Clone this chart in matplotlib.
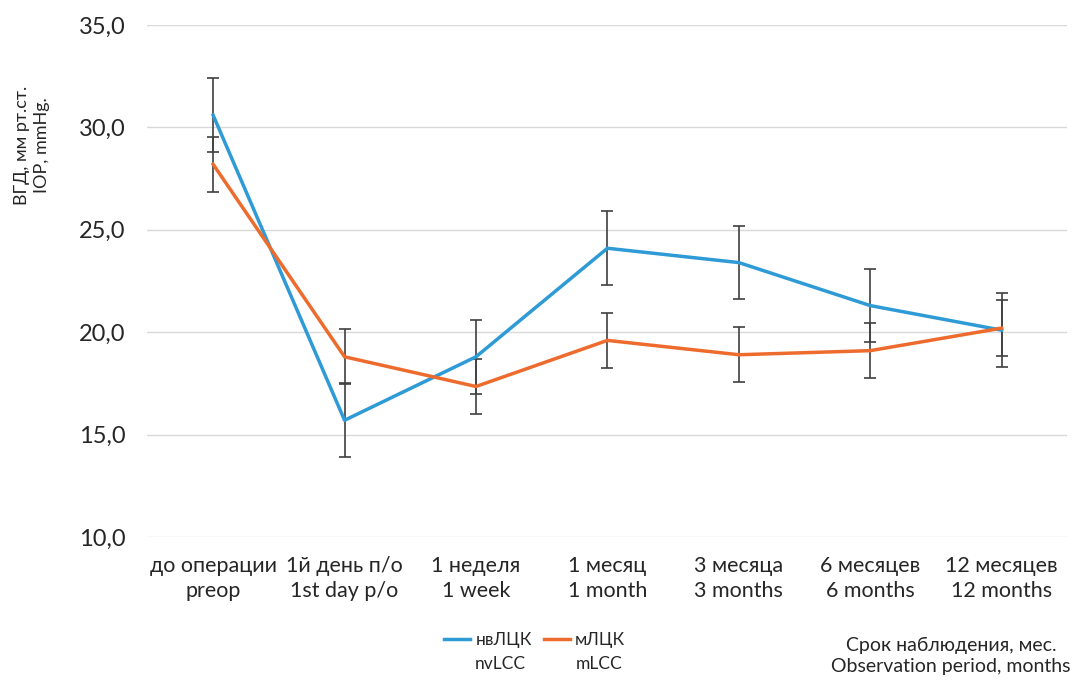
import matplotlib
matplotlib.use("Agg")
import matplotlib.pyplot as plt
import numpy as np

categories = ["до операции\npreop", "1й день п/о\n1st day p/o", "1 неделя\n1 week",
              "1 месяц\n1 month", "3 месяца\n3 months", "6 месяцев\n6 months",
              "12 месяцев\n12 months"]
nvlcc = [30.6, 15.7, 18.8, 24.1, 23.4, 21.3, 20.1]
nvlcc_err = [1.8, 1.8, 1.8, 1.8, 1.8, 1.8, 1.8]
mlcc = [28.2, 18.8, 17.35, 19.6, 18.9, 19.1, 20.2]
mlcc_err = [1.35, 1.35, 1.35, 1.35, 1.35, 1.35, 1.35]
yticks = [10, 15, 20, 25, 30, 35]
ytick_labels = ["10,0", "15,0", "20,0", "25,0", "30,0", "35,0"]

plt.rcParams['font.family'] = ['Lato', 'DejaVu Sans']
BLUE = "#2E9AD6"
ORANGE = "#EE6B2E"
TXT = "#262626"

fig = plt.figure(figsize=(10.76, 6.82), dpi=100)
ax = fig.add_axes([0.137, 0.2126, 0.855, 0.7507])
x = np.arange(len(categories))

ax.errorbar(x, nvlcc, yerr=nvlcc_err, fmt='none', ecolor="#404040", elinewidth=1.2,
            capsize=4, capthick=1.2, zorder=3)
ax.errorbar(x, mlcc, yerr=mlcc_err, fmt='none', ecolor="#404040", elinewidth=1.2,
            capsize=4, capthick=1.2, zorder=3)
l1, = ax.plot(x, nvlcc, color=BLUE, lw=2.5, label="нвЛЦК", zorder=4, solid_joinstyle='round')
l2, = ax.plot(x, mlcc, color=ORANGE, lw=2.5, label="мЛЦК", zorder=4, solid_joinstyle='round')

ax.set_xlim(-0.5, len(categories) - 0.5)
ax.set_ylim(10, 35)
ax.set_yticks(yticks)
ax.set_yticklabels(ytick_labels, fontsize=17, color=TXT)
ax.set_xticks(x)
ax.set_xticklabels(categories, fontsize=15.5, color=TXT, linespacing=1.3)
ax.tick_params(axis='y', length=0, pad=16)
ax.tick_params(axis='x', length=0, pad=14)
ax.grid(axis='y', color="#d9d9d9", lw=1)
ax.set_axisbelow(True)
for s in ax.spines.values():
    s.set_visible(False)

fig.text(0.030, 0.787, "ВГД, мм рт.ст.\nIOP, mmHg.", rotation=90, ha='center', va='center',
         fontsize=13, color=TXT, linespacing=1.3)

leg = fig.legend(handles=[l1, l2], loc='center', bbox_to_anchor=(0.497, 0.061), ncol=2,
                 frameon=False, fontsize=12.5, handlelength=1.5, handletextpad=0.3,
                 columnspacing=0.7, labelcolor=TXT)
fig.text(0.4415, 0.026, "nvLCC", fontsize=12.5, color=TXT, ha='left', va='center')
fig.text(0.535, 0.026, "mLCC", fontsize=12.5, color=TXT, ha='left', va='center')

fig.text(0.884, 0.038, "Срок наблюдения, мес.\nObservation period, months", ha='center',
         va='center', fontsize=14, color=TXT, linespacing=1.3)

fig.savefig("out.png", dpi=100)
